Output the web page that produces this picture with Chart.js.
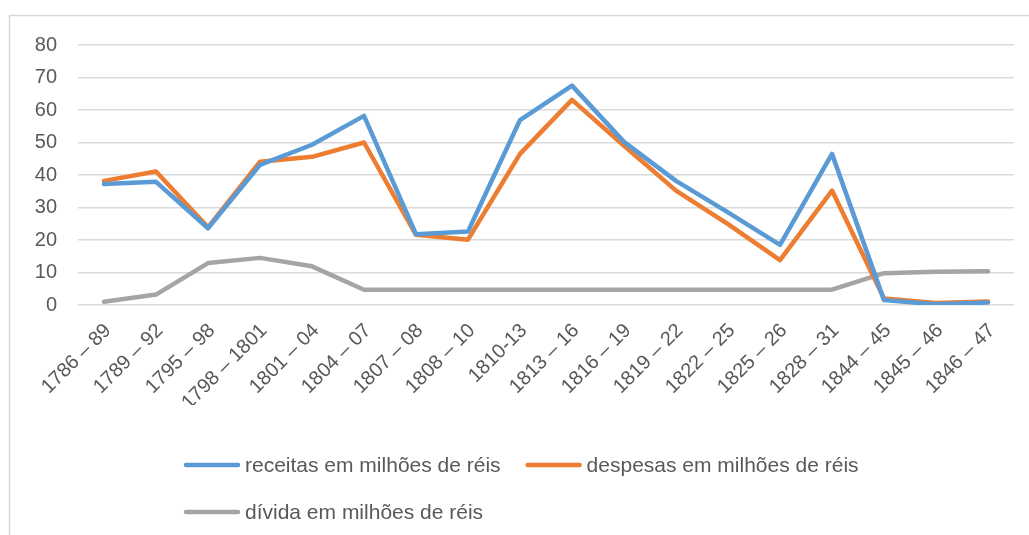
<!DOCTYPE html>
<html>
<head>
<meta charset="utf-8">
<script src="https://cdn.jsdelivr.net/npm/chart.js@4/dist/chart.umd.min.js"></script>
<style>
  html, body { margin: 0; padding: 0; background: #fff; }
  #wrap { position: relative; width: 1029px; height: 535px; }
</style>
</head>
<body>
<div id="wrap"><canvas id="chart" width="1029" height="535"></canvas></div>
<script>
const periods = [
  '1786 – 89', '1789 – 92', '1795 – 98', '1798 – 1801', '1801 – 04', '1804 – 07',
  '1807 – 08', '1808 – 10', '1810-13', '1813 – 16', '1816 – 19', '1819 – 22',
  '1822 – 25', '1825 – 26', '1828 – 31', '1844 – 45', '1845 – 46', '1846 – 47'
];
const receitas = [37.2, 37.9, 23.6, 43.1, 49.3, 58.2, 21.8, 22.6, 56.9, 67.5, 50.2, 38.2, 28.5, 18.5, 46.5, 1.5, 0.2, 0.8];
const despesas = [38.2, 41.1, 23.9, 44.1, 45.6, 50.0, 21.6, 20.1, 46.5, 63.1, 49.0, 35.2, 24.9, 13.8, 35.2, 2.0, 0.6, 1.1];
const divida = [1.0, 3.2, 12.9, 14.5, 11.9, 4.7, 4.7, 4.7, 4.7, 4.7, 4.7, 4.7, 4.7, 4.7, 4.7, 9.8, 10.2, 10.4];
const yTicks = [0, 10, 20, 30, 40, 50, 60, 70, 80];

const FONT = '"Liberation Sans", Arial, sans-serif';
const GREY_TEXT = '#595959';

const line = (label, data, color) => ({
  label,
  data,
  borderColor: color,
  backgroundColor: color,
  borderWidth: 4.5,
  borderCapStyle: 'round',
  borderJoinStyle: 'round',
  pointRadius: 0,
  tension: 0,
  fill: false
});

// frame + Excel style legend (rows start at the same x)
const frameLegend = {
  id: 'frameLegend',
  afterDraw(chart) {
    const { ctx } = chart;
    ctx.save();
    ctx.strokeStyle = '#d9d9d9';
    ctx.lineWidth = 1.5;
    ctx.beginPath();
    ctx.moveTo(9.5, 535);
    ctx.lineTo(9.5, 15.5);
    ctx.lineTo(1029, 15.5);
    ctx.stroke();

    ctx.font = '21px ' + FONT;
    ctx.textBaseline = 'middle';
    ctx.fillStyle = GREY_TEXT;
    const startX = 184;
    const rows = [465, 512];
    let x = startX;
    let row = 0;
    chart.data.datasets.forEach((ds, i) => {
      if (i === 2) { row = 1; x = startX; }
      const y = rows[row];
      ctx.strokeStyle = ds.borderColor;
      ctx.lineWidth = 4.5;
      ctx.lineCap = 'round';
      ctx.beginPath();
      ctx.moveTo(x + 2, y);
      ctx.lineTo(x + 54, y);
      ctx.stroke();
      ctx.fillText(ds.label, x + 61, y + 1);
      x += 61 + ctx.measureText(ds.label).width + 25;
    });
    ctx.restore();
  }
};

new Chart(document.getElementById('chart'), {
  type: 'line',
  data: {
    labels: periods,
    datasets: [
      line('receitas em milhões de réis', receitas, '#5b9bd5'),
      line('despesas em milhões de réis', despesas, '#ed7d31'),
      line('dívida em milhões de réis', divida, '#a5a5a5')
    ]
  },
  options: {
    responsive: false,
    animation: false,
    layout: {
      padding: { left: 0, right: 15, top: 45, bottom: 130 }
    },
    plugins: {
      legend: { display: false },
      tooltip: { enabled: false }
    },
    scales: {
      x: {
        offset: true,
        grid: { display: false, drawTicks: false },
        border: { display: false },
        ticks: {
          color: GREY_TEXT,
          font: { family: FONT, size: 20 },
          minRotation: 45,
          maxRotation: 45,
          autoSkip: false,
          padding: 14,
          labelOffset: 4
        },
        afterFit: scale => { scale.height = 100; }
      },
      y: {
        min: 0,
        max: 80,
        afterBuildTicks: scale => { scale.ticks = yTicks.map(v => ({ value: v })); },
        grid: { color: '#d9d9d9', lineWidth: 1.5, drawTicks: false },
        border: { display: false },
        ticks: {
          color: GREY_TEXT,
          font: { family: FONT, size: 20 },
          padding: 21
        },
        afterFit: scale => { scale.width = 78; }
      }
    }
  },
  plugins: [frameLegend]
});
</script>
</body>
</html>
